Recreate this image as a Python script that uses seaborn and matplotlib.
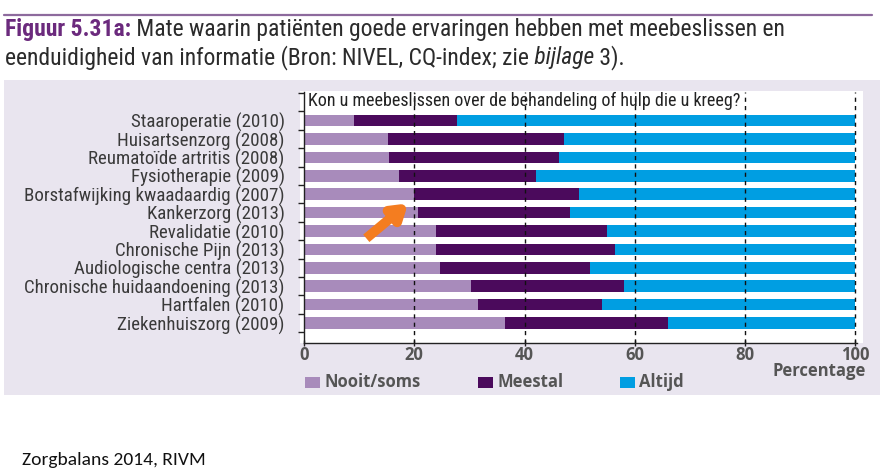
import matplotlib
matplotlib.use("Agg")
import matplotlib.pyplot as plt
import matplotlib.patches as mpatches
from matplotlib import font_manager
import seaborn as sns
import pandas as pd
import numpy as np

categories = [
    "Staaroperatie (2010)",
    "Huisartsenzorg (2008)",
    "Reumatoïde artritis (2008)",
    "Fysiotherapie (2009)",
    "Borstafwijking kwaadaardig (2007)",
    "Kankerzorg (2013)",
    "Revalidatie (2010)",
    "Chronische Pijn (2013)",
    "Audiologische centra (2013)",
    "Chronische huidaandoening (2013)",
    "Hartfalen (2010)",
    "Ziekenhuiszorg (2009)",
]
nooit_soms = [9.0, 15.3, 15.5, 17.2, 19.9, 20.6, 23.9, 23.9, 24.7, 30.3, 31.6, 36.5]
meestal = [18.8, 31.9, 30.7, 24.9, 29.9, 27.6, 31.0, 32.5, 27.1, 27.7, 22.4, 29.6]
altijd = [round(100 - a - b, 1) for a, b in zip(nooit_soms, meestal)]
series_names = ["Nooit/soms", "Meestal", "Altijd"]
x_ticks = [0, 20, 40, 60, 80, 100]
subtitle = "Kon u meebeslissen over de behandeling of hulp die u kreeg?"
x_label = "Percentage"

c_nooit = "#a88bbb"
c_meestal = "#4b0a5c"
c_altijd = "#009ee2"
panel_bg = "#e9e5ef"
text_gray = "#3a3a3a"

available = {f.name for f in font_manager.fontManager.ttflist}
def pick(*names):
    for n in names:
        if n in available:
            return n
    return "DejaVu Sans"
narrow = pick("Liberation Sans Narrow", "Roboto Condensed", "Open Sans Condensed", "Open Sans", "DejaVu Sans")
calibri = pick("Carlito", "Open Sans", "Lato", "DejaVu Sans")

sns.set_theme(style="white")
plt.rcParams["font.family"] = [narrow, "DejaVu Sans"]

W, H = 893, 474
fig = plt.figure(figsize=(W / 100, H / 100), dpi=100)
fig.patch.set_facecolor("white")

def fx(px):
    return px / W
def fy(py):
    return 1 - py / H

# lavender panel
fig.add_artist(mpatches.Rectangle((fx(4), fy(395)), fx(880) - fx(4), fy(80) - fy(395),
                                  transform=fig.transFigure, facecolor=panel_bg, edgecolor="none", zorder=-3))
# white area slightly larger than axes
fig.add_artist(mpatches.Rectangle((fx(300), fy(343)), fx(863) - fx(300), fy(91) - fy(343),
                                  transform=fig.transFigure, facecolor="white", edgecolor="none", zorder=-2))
# purple rule on top
fig.add_artist(plt.Line2D([fx(4), fx(872)], [fy(15), fy(15)], transform=fig.transFigure,
                          color="#8d6a9d", lw=1.6))

ax = fig.add_axes([fx(304), fy(343), fx(857) - fx(304), fy(92) - fy(343)])
ax.set_facecolor("white")

df = pd.DataFrame({
    "categorie": categories,
    "c1": nooit_soms,
    "c2": [a + b for a, b in zip(nooit_soms, meestal)],
    "c3": [a + b + c for a, b, c in zip(nooit_soms, meestal, altijd)],
})
bh = 0.63
sns.barplot(data=df, y="categorie", x="c3", color=c_altijd, saturation=1, width=bh, ax=ax, orient="h", zorder=2)
sns.barplot(data=df, y="categorie", x="c2", color=c_meestal, saturation=1, width=bh, ax=ax, orient="h", zorder=2)
sns.barplot(data=df, y="categorie", x="c1", color=c_nooit, saturation=1, width=bh, ax=ax, orient="h", zorder=2)
for p in ax.patches:
    p.set_edgecolor("none")

ax.set_xlim(0, 100.3)
ax.set_ylim(12.09, -1.55)
ax.set_xlabel("")
ax.set_ylabel("")

# gridlines
for xv in x_ticks[1:]:
    ax.axvline(xv, color="#111111", lw=1.0, ls=(0, (3, 3)), zorder=3)

for s in ["top", "right"]:
    ax.spines[s].set_visible(False)
for s in ["left", "bottom"]:
    ax.spines[s].set_visible(True)
    ax.spines[s].set_color("#222222")
    ax.spines[s].set_linewidth(1.0)

ax.set_yticks(range(len(categories)))
ax.set_yticklabels(categories, fontsize=13.6, color=text_gray)
ax.tick_params(axis="y", which="major", length=0, pad=14)
ax.set_yticks(np.arange(-1.5, 12.0, 1.0), minor=True)
ax.tick_params(axis="y", which="minor", length=4, width=1, color="#222222", direction="out", left=True)

ax.set_xticks(x_ticks)
ax.set_xticklabels([str(v) for v in x_ticks], fontsize=12, color="#555555", fontweight="bold",
                   family=["Open Sans", "DejaVu Sans"])
ax.tick_params(axis="x", which="major", length=4, width=1, color="#222222", direction="inout", bottom=True, pad=0)

ax.text(0.8, -1.05, subtitle, fontsize=13, color="#222222", va="center", ha="left", zorder=4)

fig.text(fx(866), fy(371), x_label, fontsize=12, color="#555555", fontweight="bold",
         ha="right", va="center", family=["Open Sans", "DejaVu Sans"])

# legend
leg_items = [(305, c_nooit, series_names[0]), (478, c_meestal, series_names[1]), (620, c_altijd, series_names[2])]
for x0, col, lab in leg_items:
    fig.add_artist(mpatches.Rectangle((fx(x0), fy(388)), fx(15), 11 / H, transform=fig.transFigure,
                                      facecolor=col, edgecolor="none"))
    fig.text(fx(x0 + 19), fy(382), lab, fontsize=12, color="#555555", fontweight="bold",
             ha="left", va="center", family=["Open Sans", "DejaVu Sans"])

# orange arrow
ax.annotate("", xy=(18.9, 4.5), xytext=(11.3, 6.4),
            arrowprops=dict(arrowstyle="-|>,head_length=0.7,head_width=0.45", color="#f47d20", lw=7,
                            shrinkA=0, shrinkB=0, capstyle="butt"), zorder=5)

# title with mixed styles
fig.canvas.draw()
renderer = fig.canvas.get_renderer()
def run(pieces, x, y):
    for txt, kw in pieces:
        t = fig.text(x / W, y, txt, ha="left", va="baseline", fontsize=17, **kw)
        bb = t.get_window_extent(renderer=renderer)
        x = bb.x1
    return x

run([("Figuur 5.31a:", dict(color="#6b2a7d", fontweight="bold")),
     (" Mate waarin patiënten goede ervaringen hebben met meebeslissen en", dict(color="#2b2b2b"))],
    5, fy(36))
run([("eenduidigheid van informatie (Bron: NIVEL, CQ-index; zie", dict(color="#2b2b2b")),
     (" bijlage", dict(color="#2b2b2b", style="italic")),
     (" 3).", dict(color="#2b2b2b"))],
    5, fy(64))

fig.text(fx(22), fy(460), "Zorgbalans 2014, RIVM", fontsize=14, color="#111111", ha="left", va="center",
         family=[calibri, "DejaVu Sans"])

fig.savefig("out.png", dpi=100, facecolor="white")
